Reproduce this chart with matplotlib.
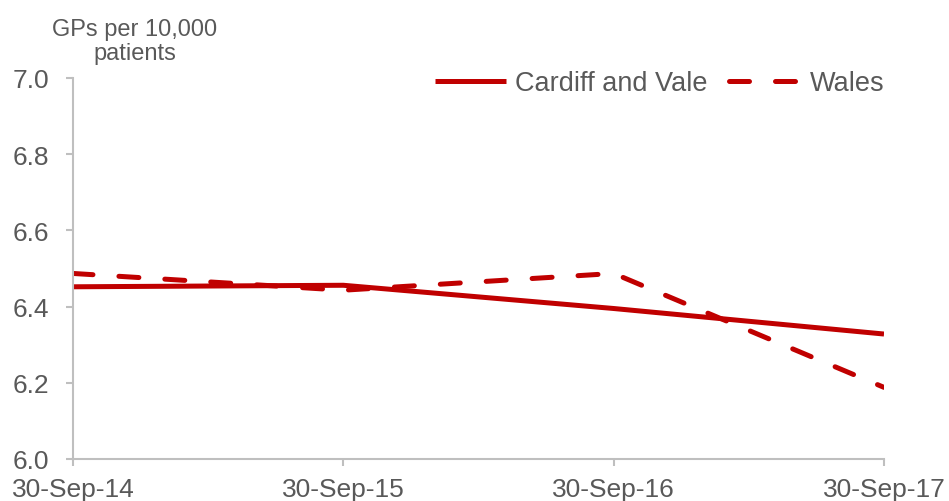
import matplotlib
matplotlib.use("Agg")
import matplotlib.pyplot as plt

dates = ["30-Sep-14", "30-Sep-15", "30-Sep-16", "30-Sep-17"]
cardiff = [6.452, 6.456, 6.395, 6.328]
wales = [6.487, 6.443, 6.487, 6.188]
y_ticks = [6.0, 6.2, 6.4, 6.6, 6.8, 7.0]

plt.rcParams['font.family'] = ['Liberation Sans', 'DejaVu Sans']
grey = "#595959"
red = "#C00000"
spine_c = "#BFBFBF"

fig = plt.figure(figsize=(9.49, 5.02), dpi=100)
ax = fig.add_axes([73/949, 1-460/502, (884-73)/949, (460-79)/502])

x = list(range(len(dates)))
ax.plot(x, cardiff, color=red, lw=3.6, solid_capstyle='butt', label="Cardiff and Vale")
ax.plot(x, wales, color=red, lw=3.6, linestyle=(0, (4.0, 5.2)), dash_capstyle='round',
        label="Wales")

ax.set_xlim(0, 3)
ax.set_ylim(6.0, 7.0)
ax.set_xticks(x)
ax.set_xticklabels(dates)
ax.set_yticks(y_ticks)
ax.set_yticklabels([f"{v:.1f}" for v in y_ticks])

for s in ["top", "right"]:
    ax.spines[s].set_visible(False)
for s in ["left", "bottom"]:
    ax.spines[s].set_color(spine_c)
    ax.spines[s].set_linewidth(1.5)
ax.tick_params(axis='both', colors=spine_c, length=5, width=1.5, labelcolor=grey,
               labelsize=19)
ax.tick_params(axis='x', pad=8)
ax.tick_params(axis='y', pad=12)

fig.text(135/949, 1-42/502, "GPs per 10,000\npatients", ha='center', va='center',
         fontsize=17, color=grey, linespacing=1.1)

leg = ax.legend(loc='upper right', bbox_to_anchor=(1.0, 1.02), ncol=2, frameon=False,
                fontsize=19.5, handlelength=2.6, handletextpad=0.35, columnspacing=0.8,
                borderaxespad=0, borderpad=0)
for t in leg.get_texts():
    t.set_color(grey)

fig.savefig("out.png", dpi=100)
